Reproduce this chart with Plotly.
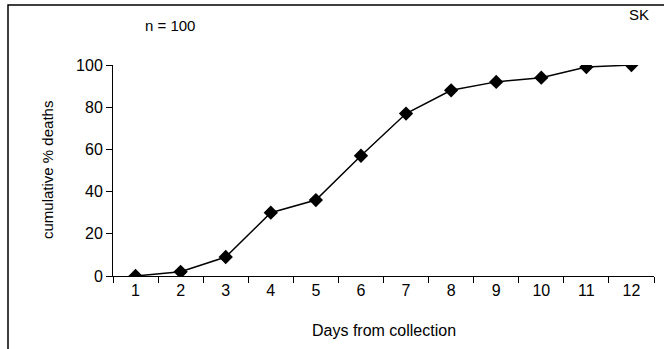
import plotly.graph_objects as go

days = ["1", "2", "3", "4", "5", "6", "7", "8", "9", "10", "11", "12"]
cum_deaths = [0, 2, 9, 30, 36, 57, 77, 88, 92, 94, 99, 100]
y_ticks = [0, 20, 40, 60, 80, 100]

FONT = "Liberation Sans, Arial, sans-serif"

fig = go.Figure()
fig.add_trace(go.Scatter(
    x=days, y=cum_deaths, mode="lines+markers",
    line=dict(color="black", width=1.5),
    marker=dict(symbol="diamond", size=11, color="black"),
    showlegend=False,
))

L, R, T, B = 113, 10, 65, 73
W, H = 664, 349
pw, ph = W - L - R, H - T - B

def px_x(p):
    return (p - L) / pw

def px_y(p):
    return (H - B - p) / ph

frame_path = "M {x0},{yb} L {x0},{yt} L {x1},{yt}".format(
    x0=px_x(8), yb=px_y(349), yt=px_y(5), x1=px_x(664))

fig.update_layout(
    width=W, height=H,
    margin=dict(l=L, r=R, t=T, b=B),
    paper_bgcolor="white", plot_bgcolor="white",
    font=dict(family=FONT, size=15, color="black"),
    xaxis=dict(
        type="category", tickson="boundaries", range=[-0.5, 11.5],
        showline=True, linecolor="black", linewidth=1,
        ticks="outside", ticklen=6, tickcolor="black",
        showgrid=False, zeroline=False,
        tickfont=dict(size=16),
    ),
    yaxis=dict(
        range=[0, 100], tickvals=y_ticks,
        showline=True, linecolor="black", linewidth=1,
        ticks="outside", ticklen=6, tickcolor="black",
        showgrid=False, zeroline=False,
        tickfont=dict(size=16),
    ),
    shapes=[
        dict(type="path", xref="paper", yref="paper", path=frame_path,
             line=dict(color="black", width=1.5), layer="above"),
    ],
    annotations=[
        dict(text="n = 100", xref="paper", yref="paper", x=px_x(170), y=px_y(25),
             showarrow=False, xanchor="center", yanchor="middle", font=dict(size=15)),
        dict(text="SK", xref="paper", yref="paper", x=px_x(639), y=px_y(14),
             showarrow=False, xanchor="center", yanchor="middle", font=dict(size=15)),
        dict(text="cumulative % deaths", xref="paper", yref="paper", x=px_x(47), y=px_y(170),
             showarrow=False, xanchor="center", yanchor="middle", textangle=-90,
             font=dict(size=15)),
        dict(text="Days from collection", xref="paper", yref="paper", x=px_x(384), y=px_y(330),
             showarrow=False, xanchor="center", yanchor="middle", font=dict(size=16)),
    ],
)

fig.write_html("out.html", config={"displayModeBar": False},
               post_script="document.body.style.margin='0'; document.documentElement.style.overflow='hidden';")
